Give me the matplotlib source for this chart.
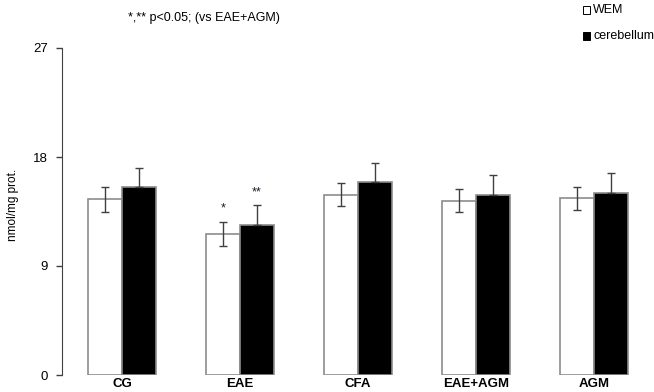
import matplotlib
matplotlib.use("Agg")
import matplotlib.pyplot as plt
import numpy as np
from matplotlib.patches import Rectangle

plt.rcParams['font.family'] = ['Liberation Sans', 'DejaVu Sans']

categories = ["CG", "EAE", "CFA", "EAE+AGM", "AGM"]
wem = [14.5, 11.65, 14.9, 14.4, 14.6]
wem_sd = [1.0, 1.0, 0.95, 0.95, 0.95]
cereb = [15.5, 12.4, 15.9, 14.9, 15.05]
cereb_sd = [1.6, 1.6, 1.6, 1.6, 1.65]
yticks = [0, 9, 18, 27]
sig_marks = {1: ("*", "**")}
legend_labels = ["WEM", "cerebellum"]
legend_colors = ["white", "black"]

fig = plt.figure(figsize=(6.54, 3.92), dpi=100)
ax = fig.add_axes([62/654, 17/392, 592/654, 327/392])

x = np.arange(len(categories))
w = 34/118
edge = "#8c8c8c"
ax.bar(x - w/2, wem, w, color="white", edgecolor=edge, linewidth=1.2, zorder=2)
ax.bar(x + w/2, cereb, w, color="black", edgecolor=edge, linewidth=1.2, zorder=2)
ax.errorbar(x - w/2, wem, yerr=wem_sd, fmt="none", ecolor="#404040",
            elinewidth=1, capsize=3, capthick=1, zorder=3)
ax.errorbar(x + w/2, cereb, yerr=[np.zeros(len(cereb)), cereb_sd], fmt="none",
            ecolor="#404040", elinewidth=1, capsize=3, capthick=1, zorder=3)

for i, (s1, s2) in sig_marks.items():
    ax.text(x[i] - w/2, wem[i] + wem_sd[i] + 0.6, s1, ha="center", va="bottom",
            fontsize=9, color="#1a1a2e")
    ax.text(x[i] + w/2, cereb[i] + cereb_sd[i] + 0.6, s2, ha="center", va="bottom",
            fontsize=9, color="#1a1a2e")

ax.set_xlim(-0.508, len(categories) - 1 + 0.508)
ax.set_ylim(0, 27)
ax.set_yticks(yticks)
ax.set_yticklabels([str(t) for t in yticks], fontsize=9.5)
ax.set_xticks(x)
ax.set_xticklabels(categories, fontsize=9.5, fontweight="bold")
ax.tick_params(axis="x", length=0, pad=2)
ax.tick_params(axis="y", length=4, width=1, color="#404040", pad=6)
for s in ["top", "right", "bottom"]:
    ax.spines[s].set_visible(False)
ax.spines["left"].set_color("#404040")
ax.set_ylabel("nmol/mg prot.", fontsize=8.5)
ax.yaxis.set_label_coords((19 - 62) / 592, (375 - 205) / 327)

fig.text(128/654, 1 - 18/392, "*,** p<0.05; (vs EAE+AGM)", fontsize=9, va="center")

for k, (lab, col) in enumerate(zip(legend_labels, legend_colors)):
    yc = [10, 36][k]
    fig.patches.append(Rectangle((583/654, (392 - yc - 3.5)/392), 7/654, 7/392,
                                 transform=fig.transFigure, facecolor=col,
                                 edgecolor="black", linewidth=0.7))
    fig.text(593/654, 1 - yc/392, lab, fontsize=9, va="center", ha="left")

fig.savefig("out.png", dpi=100)
